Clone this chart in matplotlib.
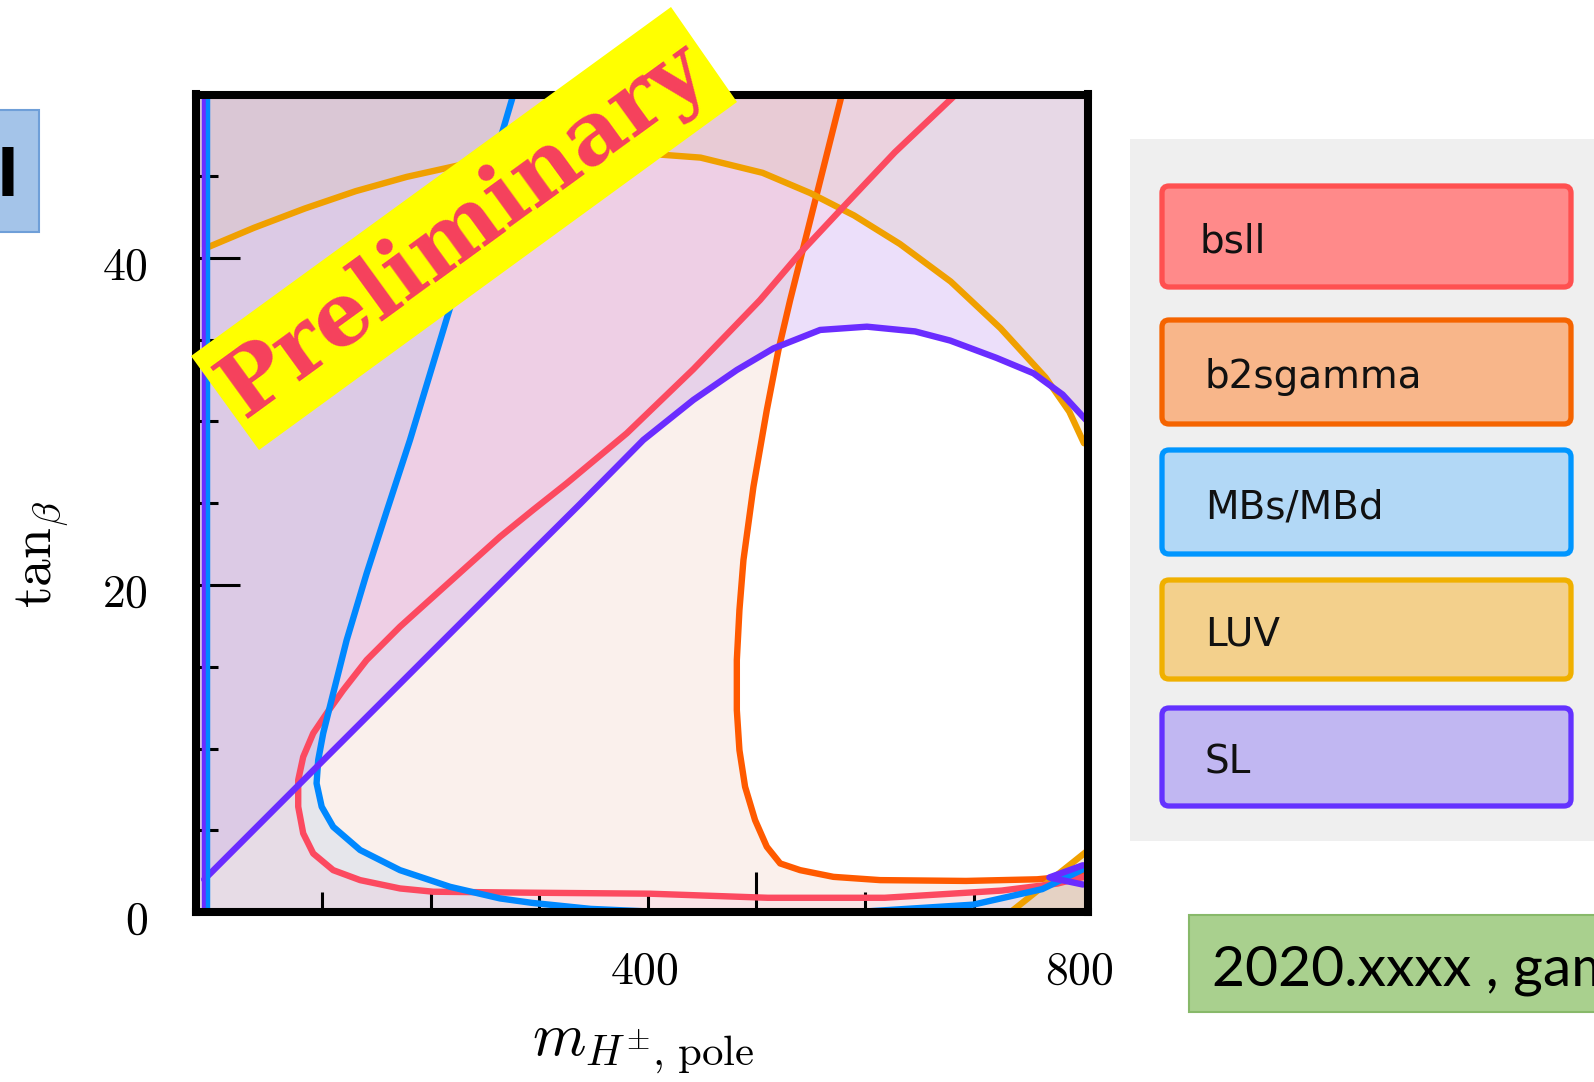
import matplotlib
matplotlib.use('Agg')
import matplotlib.pyplot as plt
from matplotlib.patches import Polygon, FancyBboxPatch, Rectangle
from matplotlib.transforms import offset_copy, blended_transform_factory

plt.rcParams['mathtext.fontset'] = 'cm'

# ---------------- data ----------------
# MBs/MBd contour (blue)
mbs_x = [276.2, 231.3, 181.0, 159.5, 141.1, 122.7, 110.3, 101.1, 96.5, 95.0, 99.7,
         110.3, 135.1, 171.8, 217.9, 263.9, 293.1, 347.4, 412.0, 552.0, 604.5, 699.5,
         763.1, 803.3]
mbs_y = [50.0, 39.9, 28.87, 24.5, 20.71, 16.63, 13.37, 10.93, 9.29, 7.87, 6.44,
         5.21, 3.79, 2.56, 1.54, 0.83, 0.56, 0.19, 0.0, -0.3, 0.05, 0.45,
         1.40, 2.70]
# bsll contour (red)
bsll_x = [683.5, 627.3, 579.6, 540.2, 503.3, 441.9, 380.6, 325.3, 294.5, 263.9, 233.2,
          202.4, 171.8, 141.1, 119.5, 104.3, 91.9, 82.7, 78.1, 78.1, 82.7, 91.9,
          110.3, 135.1, 171.8, 202.4, 293.1, 401.7, 510.3, 618.0, 725.6, 777.1, 803.3]
bsll_y = [50.0, 46.46, 43.10, 40.30, 37.43, 33.2, 29.28, 26.22, 24.6, 22.95, 21.12,
          19.28, 17.45, 15.41, 13.57, 12.15, 10.93, 9.49, 8.07, 6.44, 4.81, 3.58,
          2.56, 1.95, 1.44, 1.24, 1.18, 1.12, 0.87, 0.87, 1.31, 1.74, 2.18]
# b2sgamma contour (orange-red)
b2s_x = [578.6, 565.5, 552.4, 540.5, 531.0, 520.2, 509.5, 497.2, 488.0, 484.3, 481.9,
         481.9, 484.3, 489.5, 498.7, 509.5, 521.8, 540.2, 570.8, 613.9, 692.9, 758.4,
         803.3]
b2s_y = [50.0, 46.54, 43.08, 39.94, 37.43, 34.37, 30.70, 26.01, 21.53, 18.47, 15.41,
         12.35, 9.90, 7.66, 5.62, 3.99, 2.97, 2.56, 2.15, 1.95, 1.90, 2.00,
         2.28]
# LUV contour (yellow-orange): upper arc and lower-right piece
luv_x = [-4.7, 37.5, 84.3, 131.1, 177.9, 224.7, 271.5, 327.7, 383.9, 448.5, 505.6,
         549.6, 589.9, 632.0, 678.8, 724.7, 766.0, 788.0, 801.5]
luv_y = [40.67, 41.85, 43.03, 44.09, 44.96, 45.65, 46.08, 46.39, 46.46, 46.14, 45.21,
         43.97, 42.60, 40.86, 38.56, 35.70, 32.70, 30.60, 28.67]
luv_low_x = [734.1, 803.3]
luv_low_y = [0.0, 3.67]
# SL contour (purple): main curve and small lower-right piece
sl_x = [-8.4, 101.1, 196.6, 294.9, 337.5, 395.8, 441.9, 481.9, 515.6, 558.6, 601.7,
        646.0, 678.3, 721.0, 755.0, 781.8, 803.3]
sl_y = [1.99, 9.27, 15.61, 22.14, 24.95, 28.87, 31.32, 33.15, 34.47, 35.60, 35.80,
        35.51, 34.95, 33.89, 32.95, 31.65, 30.10]
sl_low_x = [800.5, 769.6, 800.5]
sl_low_y = [2.86, 2.11, 1.68]
# contour pieces along the left frame
sl_edge_x = -8.4
mbs_edge_x = -4.7

x_minor_ticks = [100, 200, 300, 400, 600, 700]
x_major_ticks = [500]
x_tick_labels = {400: '400', 800: '800'}
y_minor_ticks = [5, 10, 15, 25, 30, 35, 45]
y_major_ticks = [20, 40]
y_tick_labels = {0: '0', 20: '20', 40: '40'}

legend_names = ['bsll', 'b2sgamma', 'MBs/MBd', 'LUV', 'SL']
legend_face = ['#ff8a8a', '#f8b68a', '#b2d8f6', '#f3d08c', '#c1b7f2']
legend_edge = ['#ff5050', '#f56400', '#0096ff', '#f0b000', '#6432ff']

line_col = {'bsll': '#fc4a60', 'b2sgamma': '#ff5a00', 'MBs/MBd': '#0088ff',
            'LUV': '#f0a000', 'SL': '#6a2cff'}

# ---------------- figure ----------------
W, H = 1594, 1082
fig = plt.figure(figsize=(W / 100, H / 100), dpi=100)
fig.patch.set_facecolor('white')
ax = fig.add_axes([196 / W, 1 - 912 / H, (1088 - 196) / W, (912 - 94.5) / H])
XMIN, XMAX, YMIN, YMAX = -16.0, 805.2, 0.0, 50.0
ax.set_xlim(XMIN, XMAX)
ax.set_ylim(YMIN, YMAX)
ax.set_facecolor('white')


def excl_lower_left(xs, ys):
    px = [XMIN, XMIN] + list(xs) + [XMAX, XMAX]
    py = [YMIN, YMAX] + list(ys) + [ys[-1], YMIN]
    return px, py


def excl_upper(xs, ys):
    px = [XMIN] + list(xs) + [XMAX, XMAX, XMIN]
    py = [ys[0]] + list(ys) + [ys[-1], YMAX, YMAX]
    return px, py


# excluded regions (translucent fills)
px, py = excl_lower_left(b2s_x, b2s_y)
ax.fill(px, py, color=(222/255, 155/255, 128/255), alpha=0.15, lw=0, zorder=1)
px, py = excl_upper(sl_x, sl_y)
ax.fill(px, py, color=(128/255, 42/255, 222/255), alpha=0.15, lw=0, zorder=1)
ax.fill(sl_low_x + [XMAX, XMAX], sl_low_y + [1.68, 2.86], color=(128/255, 42/255, 222/255),
        alpha=0.15, lw=0, zorder=1)
px, py = excl_lower_left(bsll_x, bsll_y)
ax.fill(px, py, color=(255/255, 203/255, 221/255), alpha=0.3, lw=0, zorder=1)
px, py = excl_lower_left(mbs_x, mbs_y)
ax.fill(px, py, color=(100/255, 170/255, 230/255), alpha=0.13, lw=0, zorder=1)
px, py = excl_upper(luv_x, luv_y)
ax.fill(px, py, color=(211/255, 188/255, 150/255), alpha=0.2, lw=0, zorder=1)
ax.fill(luv_low_x + [XMAX, XMAX], luv_low_y + [3.8, 0.0], color=(225/255, 190/255, 120/255),
        alpha=0.3, lw=0, zorder=1)

LW = 4.6
kw = dict(lw=LW, solid_joinstyle='round', solid_capstyle='round')
ax.plot(b2s_x, b2s_y, color=line_col['b2sgamma'], zorder=3, **kw)
ax.plot(luv_x, luv_y, color=line_col['LUV'], zorder=3, **kw)
ax.plot(luv_low_x, luv_low_y, color=line_col['LUV'], zorder=3, **kw)
ax.plot(bsll_x, bsll_y, color=line_col['bsll'], zorder=4, **kw)
ax.plot(mbs_x, mbs_y, color=line_col['MBs/MBd'], zorder=5, **kw)
ax.plot(sl_x, sl_y, color=line_col['SL'], zorder=6, **kw)
ax.plot(sl_low_x, sl_low_y, color=line_col['SL'], zorder=6, **kw)
ax.axvline(sl_edge_x, color=line_col['SL'], lw=3.2, zorder=6)
ax.axvline(mbs_edge_x, color=line_col['MBs/MBd'], lw=3.2, zorder=6)

for s in ax.spines.values():
    s.set_linewidth(5.8)
    s.set_color('black')
    s.set_zorder(10)

ax.set_xticks(x_major_ticks)
ax.set_xticks(x_minor_ticks, minor=True)
ax.set_yticks(y_major_ticks)
ax.set_yticks(y_minor_ticks, minor=True)
ax.tick_params(axis='x', which='major', direction='in', length=29, width=2.2, labelbottom=False)
ax.tick_params(axis='x', which='minor', direction='in', length=14.5, width=2.2)
ax.tick_params(axis='y', which='major', direction='in', length=32, width=2.2, labelleft=False)
ax.tick_params(axis='y', which='minor', direction='in', length=16, width=2.2)
for t in ax.xaxis.get_major_ticks() + ax.xaxis.get_minor_ticks() + \
        ax.yaxis.get_major_ticks() + ax.yaxis.get_minor_ticks():
    t.tick1line.set_zorder(11)

# tick labels (Mathematica style, placed manually)
ytr = offset_copy(blended_transform_factory(ax.transAxes, ax.transData), fig=fig,
                  x=-48, y=-9, units='dots')
for v, s in y_tick_labels.items():
    ax.text(0, v, '$%s$' % s, transform=ytr, ha='right', va='center', fontsize=33)
xtr = offset_copy(blended_transform_factory(ax.transData, ax.transAxes), fig=fig,
                  x=-3, y=-59, units='dots')
for v, s in x_tick_labels.items():
    ax.text(v, 0, '$%s$' % s, transform=xtr, ha='center', va='center', fontsize=33,
            clip_on=False)

fig.text(643.5 / W, 1 - 1047 / H, r'$m_{H^{\pm},\,\mathrm{pole}}$', ha='center', va='center',
         fontsize=44)
fig.text(43 / W, 1 - 554 / H, r'$\mathrm{tan}_{\beta}$', ha='center', va='center',
         fontsize=40, rotation=90)

# ---------------- slide overlay ----------------
ov = fig.add_axes([0, 0, 1, 1], zorder=20)
ov.set_xlim(0, W)
ov.set_ylim(H, 0)
ov.axis('off')
ov.patch.set_alpha(0)

# Preliminary banner
ov.add_patch(Polygon([(191, 356), (671, 7), (737, 102), (259, 450)], closed=True,
                     fc='#ffff00', ec='none'))
ov.text(464, 230, 'Preliminary', rotation=36, rotation_mode='anchor', ha='center', va='center',
        fontsize=63, fontweight='bold', family='DejaVu Serif', color='#f5405e')

# legend panel
ov.add_patch(Rectangle((1130, 139), 480, 702, fc='#efefef', ec='none'))
box_rows = [(186, 287), (320, 424), (450, 554), (580, 679), (708, 806)]
for (top, bot), name, fc, ec in zip(box_rows, legend_names, legend_face, legend_edge):
    ov.add_patch(FancyBboxPatch((1162, top), 1571 - 1162, bot - top,
                                boxstyle='round,pad=0,rounding_size=7',
                                fc=fc, ec=ec, lw=3.8))
    ov.text(1200 if name == 'bsll' else 1205, (top + bot) / 2 + 5, name, ha='left', va='center',
            fontsize=28, family='DejaVu Sans', color='#111111')

# blue box at left edge
ov.add_patch(Rectangle((-3, 110), 42, 122, fc='#a4c4e9', ec='#6f9fd8', lw=1.5))
ov.text(8, 178, 'l', ha='center', va='center', fontsize=46, fontweight='bold',
        family='DejaVu Sans', color='black')

# green reference box
ov.add_patch(Rectangle((1189, 915), 430, 97, fc='#a9d08e', ec='#88b96a', lw=1.5))
ov.text(1212, 986, '2020.xxxx , gamma', ha='left', va='baseline', fontsize=41,
        family='Lato', color='black')

fig.savefig('out.png', dpi=100)
